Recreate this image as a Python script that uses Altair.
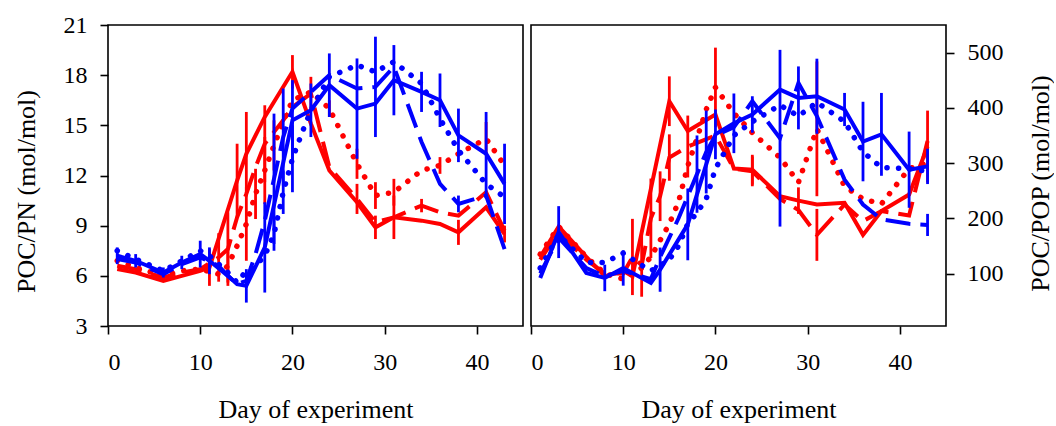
import altair as alt
import pandas as pd

# ---------------- LEFT PANEL: POC/PN (mol/mol) ----------------
L_rs_day = [1, 3, 6, 8, 10, 11, 14, 15, 17, 20, 22, 24, 27, 29, 31, 34, 36, 38, 41, 43]
L_rs_val = [6.4, 6.2, 5.7, 6.0, 6.3, 6.5, 11.7, 13.3, 15.5, 18.2, 15.1, 12.3, 10.4, 8.9, 9.5, 9.3, 9.1, 8.6, 10.1, 8.5]
L_rs_err = [0, 0, 0, 0, 0, 1.1, 2.2, 2.5, 0, 1.0, 0, 0, 0, 0.7, 0, 0, 0, 0.75, 0, 0.5]

L_rd_day = [1, 3, 6, 8, 10, 12, 13, 14, 15, 16, 17, 19, 20, 22, 24, 27, 29, 31, 34, 36, 38, 41, 43]
L_rd_val = [6.6, 6.4, 5.9, 6.2, 6.4, 7.1, 7.6, 9.5, 10.9, 12.5, 13.9, 15.3, 16.1, 16.9, 12.5, 10.6, 9.2, 9.5, 10.2, 9.8, 9.6, 11.0, 8.7]
L_rd_err = [0, 0, 0, 0, 0, 1.45, 2.2, 0, 0, 0, 2.3, 0, 0, 1.0, 0, 0.9, 0, 1.3, 0.4, 0, 0, 0, 0]

L_rt_day = [1, 3, 6, 8, 10, 12, 13, 14, 15, 16, 17, 18, 19, 20, 22, 24, 27, 29, 31, 34, 36, 38, 41, 43]
L_rt_val = [6.9, 6.5, 6.0, 6.3, 6.4, 6.1, 6.6, 7.8, 9.1, 10.9, 12.3, 13.8, 15.2, 16.5, 17.0, 16.0, 12.7, 10.8, 11.0, 12.3, 12.6, 13.3, 14.2, 12.6]
L_rt_err = [0, 0, 0, 0, 0, 0, 1.0, 0, 2.2, 1.5, 2.0, 1.5, 0, 0, 0, 0.5, 0.9, 0.8, 0.8, 0, 0.5, 0, 1.0, 0]

L_bs_day = [1, 3, 6, 8, 10, 11, 13, 14, 15, 17, 20, 22, 24, 27, 29, 31, 34, 36, 38, 41, 43]
L_bs_val = [7.2, 6.9, 6.2, 6.8, 7.3, 6.9, 6.0, 5.5, 5.4, 7.7, 15.3, 15.9, 17.4, 16.0, 16.3, 17.7, 17.0, 16.5, 14.4, 13.3, 11.5]
L_bs_err = [0.5, 0.4, 0.3, 0.4, 0.8, 0.8, 0, 0, 1.0, 2.7, 2.4, 1.6, 1.9, 3.0, 0, 2.1, 1.2, 1.6, 1.6, 2.5, 2.4]

L_bd_day = [1, 3, 6, 8, 10, 12, 13, 14, 15, 16, 17, 18, 19, 20, 22, 24, 27, 29, 31, 34, 36, 38, 41, 43]
L_bd_val = [7.0, 6.8, 6.1, 6.7, 7.1, 6.6, 6.0, 5.5, 5.7, 7.3, 9.3, 11.8, 14.3, 16.0, 17.0, 18.0, 17.2, 17.3, 18.5, 14.0, 11.5, 10.3, 10.8, 7.6]
L_bd_err = [0, 0, 0, 0, 0, 0, 0, 0, 0, 0, 0, 3.9, 2.9, 0, 0, 0, 0, 3.0, 0, 0, 0, 0.5, 0, 0]

L_bt_day = [1, 3, 6, 8, 10, 11, 13, 14, 15, 16, 17, 18, 19, 20, 21, 22, 24, 27, 29, 31, 34, 36, 38, 41, 43]
L_bt_val = [7.5, 7.0, 6.3, 6.9, 7.5, 7.2, 6.2, 5.6, 6.3, 6.6, 7.2, 8.5, 11.0, 13.0, 14.5, 15.9, 17.9, 18.6, 18.2, 18.8, 17.5, 15.4, 13.5, 11.5, 10.7]
L_bt_err = [0, 0, 0, 0, 0, 0, 0, 0, 0, 0, 0, 1.0, 1.3, 2.0, 0, 0, 0, 0, 0, 0, 0, 0, 0, 0, 0]

# ---------------- RIGHT PANEL: POC/POP (mol/mol) ----------------
R_rs_day = [1, 3, 6, 8, 10, 11, 15, 17, 20, 22, 24, 27, 29, 31, 34, 36, 38, 41, 43]
R_rs_val = [130, 185, 130, 95, 105, 95, 412, 358, 388, 290, 288, 240, 232, 225, 228, 170, 213, 243, 330]
R_rs_err = [0, 0, 0, 0, 0, 0, 45, 0, 0, 0, 27, 0, 24, 0, 0, 0, 0, 0, 65]

R_rd_day = [1, 3, 6, 8, 10, 11, 12, 13, 14, 15, 17, 20, 22, 24, 27, 29, 31, 34, 36, 38, 41, 43]
R_rd_val = [125, 175, 125, 100, 100, 130, 115, 200, 240, 310, 330, 350, 290, 285, 235, 215, 170, 225, 195, 213, 205, 340]
R_rd_err = [0, 0, 0, 0, 0, 69, 57, 72, 45, 42, 56, 0, 0, 27, 0, 0, 47, 0, 0, 0, 0, 0]

R_rt_day = [1, 3, 6, 8, 10, 12, 13, 14, 15, 16, 17, 18, 19, 20, 22, 24, 27, 29, 31, 34, 36, 38, 41, 43]
R_rt_val = [135, 185, 130, 100, 90, 110, 130, 160, 190, 230, 295, 345, 397, 437, 390, 355, 310, 265, 362, 258, 235, 226, 290, 300]
R_rt_err = [0, 0, 0, 0, 0, 0, 0, 0, 0, 0, 0, 0, 0, 72, 0, 0, 0, 0, 122, 0, 0, 0, 0, 0]

R_bs_day = [1, 3, 6, 8, 10, 13, 14, 17, 20, 22, 24, 27, 29, 31, 34, 36, 38, 41, 43]
R_bs_val = [92, 175, 101, 92, 110, 83, 107, 189, 352, 372, 388, 433, 418, 421, 397, 339, 352, 288, 294]
R_bs_err = [0, 47, 0, 24, 32, 0, 40, 65, 45, 54, 33, 0, 57, 68, 30, 72, 75, 69, 32]

R_bd_day = [1, 3, 6, 8, 10, 12, 13, 14, 15, 16, 17, 18, 19, 20, 22, 24, 27, 29, 31, 34, 36, 38, 41, 43]
R_bd_val = [100, 165, 110, 95, 105, 95, 90, 130, 165, 200, 240, 280, 320, 350, 365, 412, 345, 445, 385, 270, 225, 198, 190, 188]
R_bd_err = [0, 0, 0, 0, 0, 0, 0, 0, 0, 0, 0, 70, 75, 0, 0, 0, 160, 0, 0, 0, 0, 0, 0, 20]

R_bt_day = [1, 3, 6, 8, 10, 12, 13, 15, 16, 17, 18, 19, 20, 22, 24, 27, 29, 31, 34, 36, 38, 41, 43]
R_bt_val = [110, 170, 120, 120, 137, 115, 105, 125, 150, 190, 210, 235, 290, 350, 375, 405, 385, 410, 375, 320, 292, 290, 285]
R_bt_err = [0, 0, 0, 0, 0, 0, 0, 0, 0, 0, 0, 0, 0, 0, 0, 0, 0, 0, 0, 0, 0, 0, 0]

X_TICKS = [0, 10, 20, 30, 40]
L_Y_TICKS = [3, 6, 9, 12, 15, 18, 21]
R_Y_TICKS = [100, 200, 300, 400, 500]


def build(series):
    rows = []
    for color, style, days, vals, errs in series:
        for d, v, e in zip(days, vals, errs):
            rows.append({"col": color, "style": style, "day": d, "val": v, "err": e,
                         "lo": v - e, "hi": v + e, "key": color + style})
    return pd.DataFrame(rows)


left_df = build([
    ("red", "solid", L_rs_day, L_rs_val, L_rs_err),
    ("red", "dashed", L_rd_day, L_rd_val, L_rd_err),
    ("red", "dotted", L_rt_day, L_rt_val, L_rt_err),
    ("blue", "solid", L_bs_day, L_bs_val, L_bs_err),
    ("blue", "dashed", L_bd_day, L_bd_val, L_bd_err),
    ("blue", "dotted", L_bt_day, L_bt_val, L_bt_err),
])
right_df = build([
    ("red", "solid", R_rs_day, R_rs_val, R_rs_err),
    ("red", "dashed", R_rd_day, R_rd_val, R_rd_err),
    ("red", "dotted", R_rt_day, R_rt_val, R_rt_err),
    ("blue", "solid", R_bs_day, R_bs_val, R_bs_err),
    ("blue", "dashed", R_bd_day, R_bd_val, R_bd_err),
    ("blue", "dotted", R_bt_day, R_bt_val, R_bt_err),
])

FONT = "Liberation Serif"
col_scale = alt.Scale(domain=["red", "blue"], range=["#ff0000", "#0000ff"])


def panel(df, ydomain, yticks, ytitle, orient, title_pad, title_y):
    xenc = alt.X("day:Q", scale=alt.Scale(domain=[0, 45], nice=False, zero=False),
                 axis=alt.Axis(values=X_TICKS, title="Day of experiment", tickSize=8,
                               labelPadding=16, titlePadding=22, grid=False, domain=False))
    yaxis = alt.Axis(values=yticks, title=ytitle, orient=orient, tickSize=8, labelPadding=13,
                     titlePadding=title_pad, grid=False, domain=False, titleAngle=270,
                     titleY=title_y)
    yenc = alt.Y("val:Q", scale=alt.Scale(domain=ydomain, nice=False, zero=False), axis=yaxis)
    color = alt.Color("col:N", scale=col_scale, legend=None)
    base = alt.Chart(df)
    layers = []
    for c in ["red", "blue"]:
        sub = base.transform_filter(alt.datum.col == c)
        err = sub.transform_filter(alt.datum.err > 0).mark_rule(strokeWidth=2.8, clip=True).encode(
            x="day:Q", y=alt.Y("lo:Q"), y2="hi:Q", color=color)
        solid = sub.transform_filter(alt.datum.style == "solid").mark_line(
            strokeWidth=4, strokeJoin="miter", clip=True).encode(
            x=xenc, y=yenc, color=color, detail="key:N")
        dashed = sub.transform_filter(alt.datum.style == "dashed").mark_line(
            strokeWidth=4, strokeDash=[25, 10], clip=True).encode(
            x=xenc, y=yenc, color=color, detail="key:N")
        dotted = sub.transform_filter(alt.datum.style == "dotted").mark_line(
            strokeWidth=5.5, strokeDash=[0.1, 11.5], strokeCap="round", clip=True).encode(
            x=xenc, y=yenc, color=color, detail="key:N")
        layers += [err, dotted, dashed, solid]
    return alt.layer(*layers).properties(width=415, height=301)


left = panel(left_df, [3, 21], L_Y_TICKS, "POC/PN (mol/mol)", "left", 24, 166)
right = panel(right_df, [5, 550], R_Y_TICKS, "POC/POP (mol/mol)", "right", 50, 158)

chart = alt.hconcat(left, right, spacing=8, bounds="flush").resolve_scale(
    y="independent", x="independent", color="shared"
).configure_view(stroke="black", strokeWidth=1.6).configure_axis(
    labelFont=FONT, titleFont=FONT, labelFontSize=24, titleFontSize=26,
    titleFontWeight="normal", labelColor="black", titleColor="black",
    tickColor="black", tickWidth=1.6
).properties(padding={"left": 12, "top": 12, "right": 0, "bottom": 0})

chart.save("out.html", embed_options={"renderer": "svg", "actions": False})
